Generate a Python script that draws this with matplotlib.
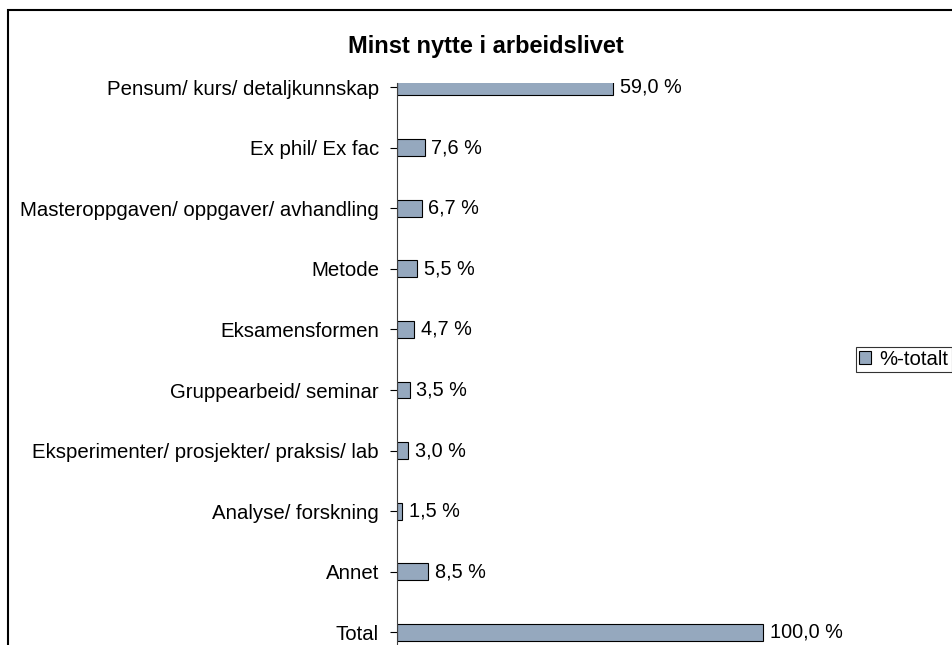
import matplotlib
matplotlib.use("Agg")
import matplotlib.pyplot as plt
from matplotlib.patches import Rectangle, Patch

plt.rcParams['font.family'] = ['Liberation Sans', 'DejaVu Sans']

# data
categories = [
    "Pensum/ kurs/ detaljkunnskap",
    "Ex phil/ Ex fac",
    "Masteroppgaven/ oppgaver/ avhandling",
    "Metode",
    "Eksamensformen",
    "Gruppearbeid/ seminar",
    "Eksperimenter/ prosjekter/ praksis/ lab",
    "Analyse/ forskning",
    "Annet",
    "Total",
]
values = [59.0, 7.6, 6.7, 5.5, 4.7, 3.5, 3.0, 1.5, 8.5, 100.0]
title = "Minst nytte i arbeidslivet"
series_name = "%-totalt"

W, H = 953, 645
fig = plt.figure(figsize=(W / 100, H / 100), dpi=100)

# outer chart border (clipped by the image on right/bottom)
fig.patches.append(Rectangle((8 / W, -0.2), 1.2, 1.2 - 10 / H,
                             transform=fig.transFigure, fill=False,
                             edgecolor='black', linewidth=1.5))

ytop, ybot = -0.06, 9.5
px_per_cat = 60.6
top_px = 87 + ytop * px_per_cat
bot_px = 87 + ybot * px_per_cat
left_px = 397
xmax = 120
width_px = 366 * xmax / 100
ax = fig.add_axes([left_px / W, 1 - bot_px / H, width_px / W, (bot_px - top_px) / H])

pos = list(range(len(categories)))
bars = ax.barh(pos, values, height=0.28, color='#95A8BE', edgecolor='black', linewidth=0.8)
ax.set_ylim(ybot, ytop)
ax.set_xlim(0, xmax)
ax.set_yticks(pos)
ax.set_yticklabels(categories, fontsize=14.7)
ax.tick_params(axis='y', length=5, width=0.8, pad=8)
ax.set_xticks([])
for s in ['top', 'right', 'bottom']:
    ax.spines[s].set_visible(False)
ax.spines['left'].set_linewidth(0.8)
ax.spines['left'].set_color('#404040')

for b, v in zip(bars, values):
    ax.text(v + 1.8, b.get_y() + b.get_height() / 2, f"{v:.1f} %".replace('.', ','),
            va='center', ha='left', fontsize=14.3)

fig.text(486 / W, 1 - 46 / H, title, ha='center', va='center', fontsize=17, fontweight='bold')

leg = fig.legend([Patch(facecolor='#95A8BE', edgecolor='black', linewidth=0.8)], [series_name],
                 loc='upper left', bbox_to_anchor=(856 / W, 1 - 347 / H),
                 fontsize=14.7, frameon=True, fancybox=False, borderpad=0.15,
                 handlelength=0.6, handleheight=0.6, handletextpad=0.4, borderaxespad=0)
leg.get_frame().set_edgecolor('black')
leg.get_frame().set_linewidth(0.8)

fig.savefig("out.png", dpi=100)
